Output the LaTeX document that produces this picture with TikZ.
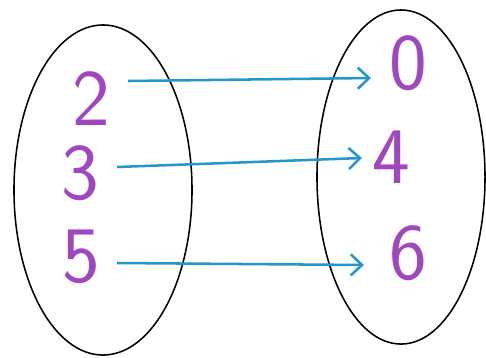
\documentclass[tikz,border=0pt]{standalone}
\usetikzlibrary{shapes.geometric, arrows.meta}
\definecolor{morado}{RGB}{160,70,190}
\definecolor{azul}{RGB}{35,150,205}
\begin{document}
\begin{tikzpicture}[x=0.025cm, y=-0.025cm,
  conjunto/.style={draw, ellipse, line width=1.1pt, inner sep=0pt},
  numero/.style={text=morado, font=\sffamily\fontsize{57}{57}\selectfont, inner sep=0pt},
  flecha/.style={azul, line width=1.8pt, -{Straight Barb[length=8pt, width=15pt, line width=1.8pt]}}]
  \useasboundingbox (0,0) rectangle (486,357);
  \node[conjunto, minimum width=4.45cm, minimum height=8.25cm] (dominio) at (103,190) {};
  \node[conjunto, minimum width=4.2cm, minimum height=8.35cm] (codominio) at (401,177) {};
  \node[numero] (n2) at (91,99) {2};
  \node[numero] (n3) at (80,173) {3};
  \node[numero] (n5) at (81,257) {5};
  \node[numero] (n0) at (408,63) {0};
  \node[numero] (n4) at (391,157) {4};
  \node[numero] (n6) at (408,253) {6};
  \draw[flecha] ([shift={(18,-18)}]n2.east) -- ([shift={(-18,15)}]n0.west);
  \draw[flecha] ([shift={(18,-6)}]n3.east) -- ([shift={(-10,1)}]n4.west);
  \draw[flecha] ([shift={(17,6)}]n5.east) -- ([shift={(-25,12)}]n6.west);
\end{tikzpicture}
\end{document}
